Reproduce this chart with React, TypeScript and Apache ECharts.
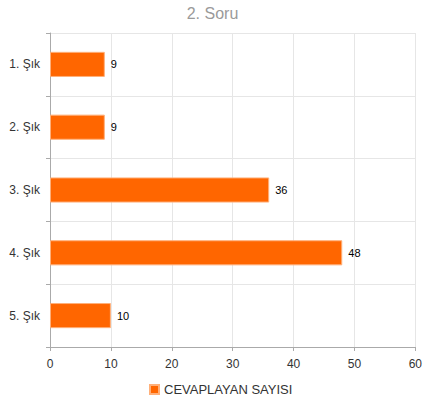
import React, { useEffect, useRef } from "react";
import * as echarts from "echarts";

const categories = ["1. Şık", "2. Şık", "3. Şık", "4. Şık", "5. Şık"];
const values = [9, 9, 36, 48, 10];
const seriesName = "CEVAPLAYAN SAYISI";
const titleText = "2. Soru";

export default function App() {
  const ref = useRef<HTMLDivElement>(null);
  useEffect(() => {
    const chart = echarts.init(ref.current!, null, { renderer: "svg" });
    chart.setOption({
      animation: false,
      title: {
        text: titleText,
        left: "center",
        top: 0,
        textStyle: { color: "#9a9a9a", fontSize: 16, fontWeight: "normal", fontFamily: "Liberation Sans, Arial, sans-serif" },
      },
      legend: {
        bottom: 4,
        left: 144,
        itemWidth: 9,
        itemHeight: 9,
        itemGap: 8,
        icon: "rect",
        textStyle: { color: "#333", fontSize: 13, fontFamily: "Liberation Sans, Arial, sans-serif" },
        data: [seriesName],
      },
      grid: { left: 50, right: 8, top: 33, bottom: 58, containLabel: false },
      xAxis: {
        type: "value",
        min: 0,
        max: 60,
        interval: 10,
        axisLine: { show: true, lineStyle: { color: "#aaa" } },
        axisTick: { show: true, length: 4, lineStyle: { color: "#aaa" } },
        axisLabel: { color: "#333", fontSize: 12, margin: 11, fontFamily: "Liberation Sans, Arial, sans-serif" },
        splitLine: { show: true, lineStyle: { color: "#e6e6e6" } },
      },
      yAxis: {
        type: "category",
        data: categories,
        inverse: true,
        axisLine: { show: true, lineStyle: { color: "#aaa" } },
        axisTick: { show: true, length: 4, lineStyle: { color: "#aaa" } },
        axisLabel: { color: "#333", fontSize: 12, margin: 10, fontFamily: "Liberation Sans, Arial, sans-serif" },
        splitLine: { show: true, lineStyle: { color: "#e6e6e6" } },
      },
      series: [
        {
          name: seriesName,
          type: "bar",
          data: values,
          barWidth: "40%",
          itemStyle: { color: "#ff6600", borderColor: "#ffb07a", borderWidth: 1 },
          label: {
            show: true,
            position: "right",
            distance: 6,
            color: "#000",
            fontSize: 11,
            fontFamily: "Liberation Sans, Arial, sans-serif",
          },
        },
      ],
    });
    return () => chart.dispose();
  }, []);
  return <div ref={ref} style={{ width: 425, height: 405, position: "absolute", left: 0, top: 0 }} />;
}
